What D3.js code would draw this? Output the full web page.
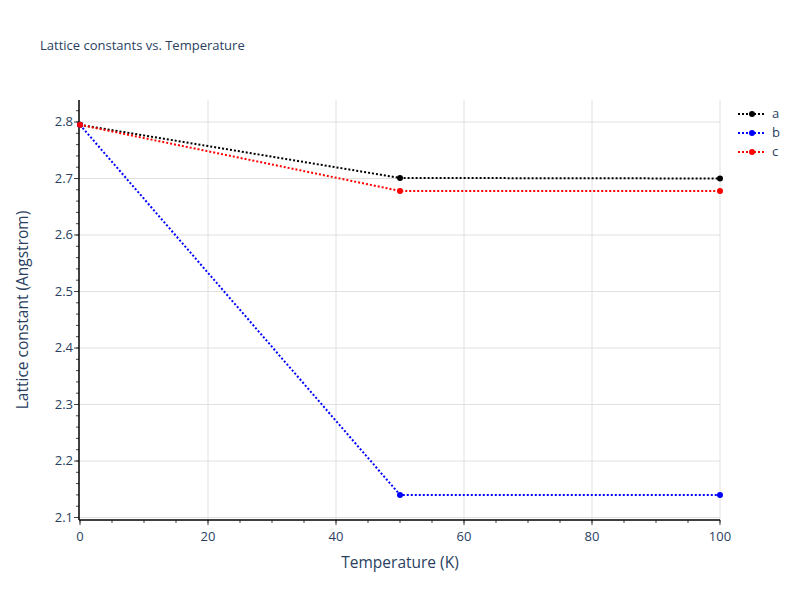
<!DOCTYPE html><html><head><script src="https://cdn.jsdelivr.net/npm/d3@7"></script>
<style>body{margin:0}text{font-family:"Open Sans",Arial,sans-serif}</style></head><body><svg id="c" width="800" height="600"></svg>
<script>
const temps=[0,50,100];
const seriesNames=["a","b","c"];
const aVals=[2.795,2.701,2.700];
const bVals=[2.795,2.140,2.140];
const cVals=[2.795,2.678,2.678];
const colors=["#000000","#0000ff","#ff0000"];
const xTicks=[0,20,40,60,80,100];
const yTicks=[2.1,2.2,2.3,2.4,2.5,2.6,2.7,2.8];
const all=[aVals,bVals,cVals];
const svg=d3.select("#c");
svg.append("rect").attr("width",800).attr("height",600).attr("fill","#fff");
const L=80,R=720,T=100,B=520;
const x=d3.scaleLinear().domain([0,100]).range([L,R]);
const y=d3.scaleLinear().domain([2.1,2.8]).range([517.5,122]);
const g=svg.append("g");
g.selectAll(".gx").data(xTicks.slice(1)).join("line").attr("x1",d=>x(d)).attr("x2",d=>x(d)).attr("y1",T).attr("y2",B).attr("stroke","#e0e0e0");
g.selectAll(".gy").data(yTicks).join("line").attr("x1",L).attr("x2",R).attr("y1",d=>y(d)).attr("y2",d=>y(d)).attr("stroke","#e0e0e0");
const xm=d3.range(0,101,5), ym=d3.range(2.1,2.84,0.02);
g.selectAll(".mx").data(xm).join("line").attr("x1",d=>x(d)).attr("x2",d=>x(d)).attr("y1",B).attr("y2",B+3).attr("stroke","#444");
g.selectAll(".my").data(ym).join("line").attr("x1",L-4).attr("x2",L-1).attr("y1",d=>y(d)).attr("y2",d=>y(d)).attr("stroke","#444");
g.selectAll(".tx").data(xTicks).join("line").attr("x1",d=>x(d)).attr("x2",d=>x(d)).attr("y1",B).attr("y2",B+5).attr("stroke","#444");
g.selectAll(".ty").data(yTicks).join("line").attr("x1",L-6).attr("x2",L-1).attr("y1",d=>y(d)).attr("y2",d=>y(d)).attr("stroke","#444");
g.append("line").attr("x1",L-1).attr("x2",L-1).attr("y1",T).attr("y2",B).attr("stroke","#000").attr("stroke-width",1.5);
g.append("line").attr("x1",L-1).attr("x2",R).attr("y1",B).attr("y2",B).attr("stroke","#000").attr("stroke-width",1.5);
g.selectAll(".lx").data(xTicks).join("text").attr("x",d=>x(d)).attr("y",B+21).attr("text-anchor","middle").attr("font-size",13).attr("fill","#2a3f5f").text(d=>d);
g.selectAll(".ly").data(yTicks).join("text").attr("x",L-7).attr("y",d=>y(d)+4).attr("text-anchor","end").attr("font-size",13).attr("fill","#2a3f5f").text(d=>d.toFixed(1));
const line=d3.line().x((d,i)=>x(temps[i])).y(d=>y(d));
const clip=svg.append("g");
all.forEach((vals,k)=>{
  clip.append("path").attr("d",line(vals)).attr("fill","none").attr("stroke",colors[k]).attr("stroke-width",2).attr("stroke-dasharray","2,2");
  clip.selectAll(null).data(vals).join("circle").attr("cx",(d,i)=>x(temps[i])).attr("cy",d=>y(d)).attr("r",3).attr("fill",colors[k]);
});
const lg=svg.append("g");
seriesNames.forEach((n,k)=>{
  const yy=114+k*19;
  lg.append("line").attr("x1",738).attr("x2",766).attr("y1",yy).attr("y2",yy).attr("stroke",colors[k]).attr("stroke-width",2).attr("stroke-dasharray","2,2");
  lg.append("circle").attr("cx",752).attr("cy",yy).attr("r",3).attr("fill",colors[k]);
  lg.append("text").attr("x",772).attr("y",yy+4).attr("font-size",13).attr("fill","#2a3f5f").text(n);
});
svg.append("text").attr("x",40).attr("y",50).attr("font-size",13).attr("fill","#2a3f5f").text("Lattice constants vs. Temperature");
svg.append("text").attr("x",400).attr("y",568).attr("text-anchor","middle").attr("font-size",15.5).attr("fill","#2a3f5f").text("Temperature (K)");
svg.append("text").attr("transform","translate(28,310) rotate(-90)").attr("text-anchor","middle").attr("font-size",15.5).attr("fill","#2a3f5f").text("Lattice constant (Angstrom)");
</script></body></html>
